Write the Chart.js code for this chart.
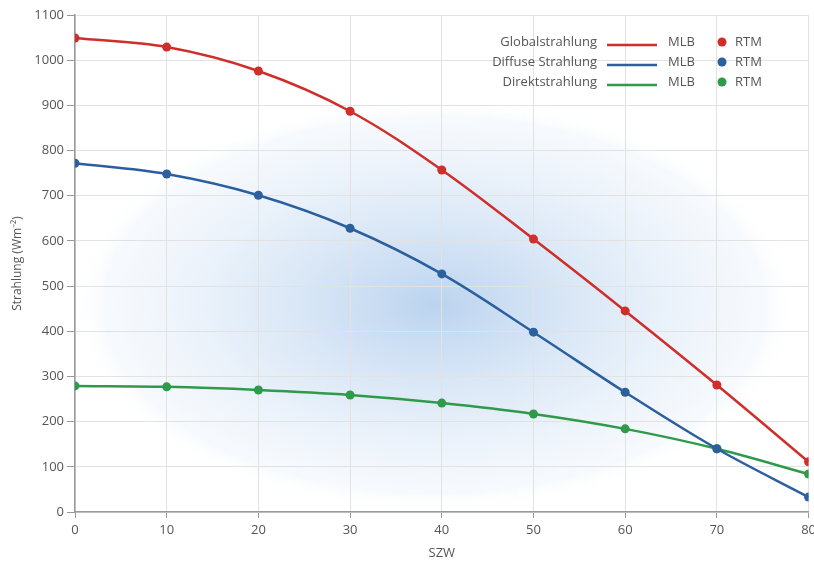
<!DOCTYPE html>
<html>
<head>
    <title>Strahlung vs SZW</title>
    <style>
        html, body { margin: 0; padding: 0; background: #fff; overflow: hidden; }
        #wrap { width: 820px; height: 565px; }
    </style>
</head>
<body>
    <div id="wrap"><canvas id="chart"></canvas></div>

    <script src="https://cdn.jsdelivr.net/npm/chart.js"></script>
    <script>
        // solar zenith angle (SZW)
        var szw = [0, 10, 20, 30, 40, 50, 60, 70, 80];
        var globalStr = [1049, 1029, 976, 887, 757, 604, 445, 281, 111];
        var diffuseStr = [772, 748, 701, 628, 527, 398, 265, 140, 33];
        var direktStr = [279, 277, 270, 259, 241, 217, 184, 140, 84];
        var yTicks = [0, 100, 200, 300, 400, 500, 600, 700, 800, 900, 1000, 1100];

        var seriesNames = ['Globalstrahlung', 'Diffuse Strahlung', 'Direktstrahlung'];
        var seriesColors = ['#cf2e2a', '#2b5f9e', '#2f9a4a'];
        var FONT = '"Open Sans", sans-serif';
        var TEXT = '#555';

        function pts(vals) {
            return szw.map(function (x, i) { return { x: x, y: vals[i] }; });
        }

        function makeSet(i, vals) {
            return {
                label: seriesNames[i],
                data: pts(vals),
                borderColor: seriesColors[i],
                backgroundColor: seriesColors[i],
                borderWidth: 2.5,
                pointRadius: 4.5,
                pointBorderWidth: 0,
                tension: 0.35,
                fill: false
            };
        }

        // soft blue ellipse in the background
        var glow = {
            id: 'glow',
            beforeDraw: function (chart) {
                var ctx = chart.ctx;
                ctx.save();
                ctx.translate(435, 305);
                ctx.scale(1, 0.57);
                var g = ctx.createRadialGradient(0, 0, 0, 0, 0, 360);
                g.addColorStop(0, 'rgba(170,200,235,0.8)');
                g.addColorStop(0.5, 'rgba(200,220,242,0.55)');
                g.addColorStop(0.92, 'rgba(235,242,250,0.4)');
                g.addColorStop(1, 'rgba(255,255,255,0)');
                ctx.fillStyle = g;
                ctx.beginPath();
                ctx.arc(0, 0, 360, 0, Math.PI * 2);
                ctx.fill();
                ctx.restore();
            }
        };

        // legend: name, line "MLB", dot "RTM"
        var legendBox = {
            id: 'legendBox',
            afterDraw: function (chart) {
                var ctx = chart.ctx;
                ctx.save();
                ctx.font = '13px ' + FONT;
                ctx.textBaseline = 'middle';
                for (var i = 0; i < seriesNames.length; i++) {
                    var y = 42 + i * 20;
                    ctx.fillStyle = TEXT;
                    ctx.textAlign = 'right';
                    ctx.fillText(seriesNames[i], 597, y);
                    ctx.textAlign = 'left';
                    ctx.fillText('MLB', 668, y);
                    ctx.fillText('RTM', 735, y);
                    ctx.strokeStyle = seriesColors[i];
                    ctx.lineWidth = 2.5;
                    ctx.beginPath();
                    ctx.moveTo(607, y + 3);
                    ctx.lineTo(657, y + 3);
                    ctx.stroke();
                    ctx.fillStyle = seriesColors[i];
                    ctx.beginPath();
                    ctx.arc(722, y, 4.5, 0, Math.PI * 2);
                    ctx.fill();
                }
                ctx.restore();
            }
        };

        new Chart(document.getElementById('chart'), {
            type: 'line',
            data: {
                datasets: [
                    makeSet(0, globalStr),
                    makeSet(1, diffuseStr),
                    makeSet(2, direktStr)
                ]
            },
            options: {
                responsive: true,
                maintainAspectRatio: false,
                animation: false,
                layout: { padding: { top: 15, right: 0, left: 6, bottom: 0 } },
                plugins: {
                    legend: { display: false },
                    tooltip: { enabled: false }
                },
                scales: {
                    x: {
                        type: 'linear',
                        min: 0,
                        max: 80,
                        ticks: { stepSize: 10, color: TEXT, font: { family: FONT, size: 13 }, padding: 4 },
                        grid: { color: '#e2e2e2', tickColor: '#999', tickLength: 6 },
                        border: { color: '#999', width: 1.5 },
                        title: { display: true, text: 'SZW', color: TEXT, font: { family: FONT, size: 13 }, padding: { top: 6 } },
                        afterFit: function (s) { s.height = 53; }
                    },
                    y: {
                        min: 0,
                        max: 1100,
                        afterBuildTicks: function (s) {
                            s.ticks = yTicks.map(function (v) { return { value: v }; });
                        },
                        ticks: {
                            color: TEXT, font: { family: FONT, size: 13 }, padding: 3,
                            callback: function (v) { return String(v); }
                        },
                        grid: { color: '#e2e2e2', tickColor: '#999', tickLength: 8 },
                        border: { color: '#999', width: 1.5 },
                        title: { display: true, text: 'Strahlung (Wm\u207B\u00B2)', color: TEXT, font: { family: FONT, size: 12 } },
                        afterFit: function (s) { s.width = 69; }
                    }
                }
            },
            plugins: [glow, legendBox]
        });
    </script>
</body>
</html>
